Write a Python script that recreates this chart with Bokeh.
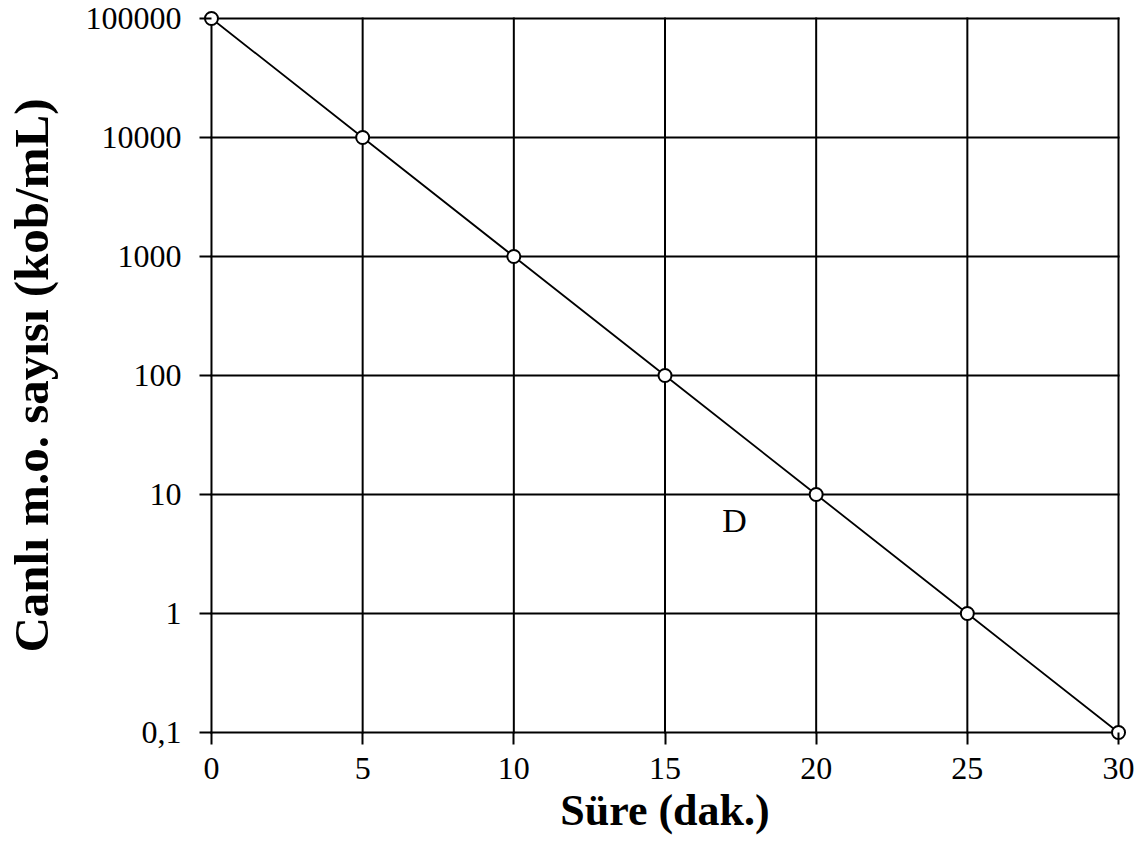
from bokeh.plotting import figure
from bokeh.models import FixedTicker, Label, Range1d
from bokeh.embed import file_html
from bokeh.resources import INLINE

minutes = [0, 5, 10, 15, 20, 25, 30]
counts = [100000, 10000, 1000, 100, 10, 1, 0.1]
x_ticks = [0, 5, 10, 15, 20, 25, 30]
y_ticks = [0.1, 1, 10, 100, 1000, 10000, 100000]
y_tick_labels = ["0,1", "1", "10", "100", "1000", "10000", "100000"]
x_label = "Süre (dak.)"
y_label = "Canlı m.o. sayısı (kob/mL)"
annot_text = "D"
annot_x = 17.3
annot_y = 6.0
x_min, x_max = 0, 30
y_min, y_max = 0.1, 100000

FONT = "Liberation Serif"

# small padding so that markers on the box edge are not clipped by the frame
pad_x = 0.264
pad_y_factor = 1.1673

p = figure(width=1140, height=862, y_axis_type="log",
           x_range=Range1d(x_min - pad_x, x_max + pad_x),
           y_range=Range1d(y_min / pad_y_factor, y_max * pad_y_factor),
           output_backend="svg", toolbar_location=None,
           min_border_left=201, min_border_right=14, min_border_top=10, min_border_bottom=122)
p.outline_line_color = None
p.background_fill_color = "white"
p.border_fill_color = "white"
p.grid.visible = False

p.xaxis.ticker = FixedTicker(ticks=x_ticks)
p.yaxis.ticker = FixedTicker(ticks=y_ticks, minor_ticks=[])
p.yaxis.major_label_overrides = {t: l for t, l in zip(y_ticks, y_tick_labels)}
p.xaxis.major_label_overrides = {t: str(t) for t in x_ticks}

for ax in (p.xaxis[0], p.yaxis[0]):
    ax.axis_line_color = None
    ax.major_tick_line_color = "black"
    ax.major_tick_line_width = 2
    ax.major_tick_out = 4
    ax.major_tick_in = 8
    ax.minor_tick_line_color = None
    ax.major_label_text_font = FONT
    ax.major_label_text_font_size = "32px"
    ax.major_label_text_color = "black"
    ax.axis_label_text_font = FONT
    ax.axis_label_text_font_style = "bold"
    ax.axis_label_text_color = "black"

p.xaxis.axis_label = x_label
p.yaxis.axis_label = y_label
p.xaxis.axis_label_text_font_size = "44px"
p.yaxis.axis_label_text_font_size = "49px"
p.xaxis.major_label_standoff = 13
p.yaxis.major_label_standoff = 18
p.xaxis.axis_label_standoff = 4
p.yaxis.axis_label_standoff = 24

# grid and box, drawn from the tick lists
p.segment(x0=x_ticks, y0=[y_min] * len(x_ticks), x1=x_ticks, y1=[y_max] * len(x_ticks),
          line_color="black", line_width=2, line_cap="square")
p.segment(x0=[x_min] * len(y_ticks), y0=y_ticks, x1=[x_max] * len(y_ticks), y1=y_ticks,
          line_color="black", line_width=2, line_cap="square")

p.line(minutes, counts, line_color="black", line_width=1.8)
p.scatter(minutes, counts, size=13, fill_color="white", line_color="black", line_width=2)

p.add_layout(Label(x=annot_x, y=annot_y, text=annot_text, text_font=FONT,
                   text_font_size="34px", text_color="black",
                   text_align="center", text_baseline="middle"))

open("out.html", "w").write(file_html(p, INLINE))
